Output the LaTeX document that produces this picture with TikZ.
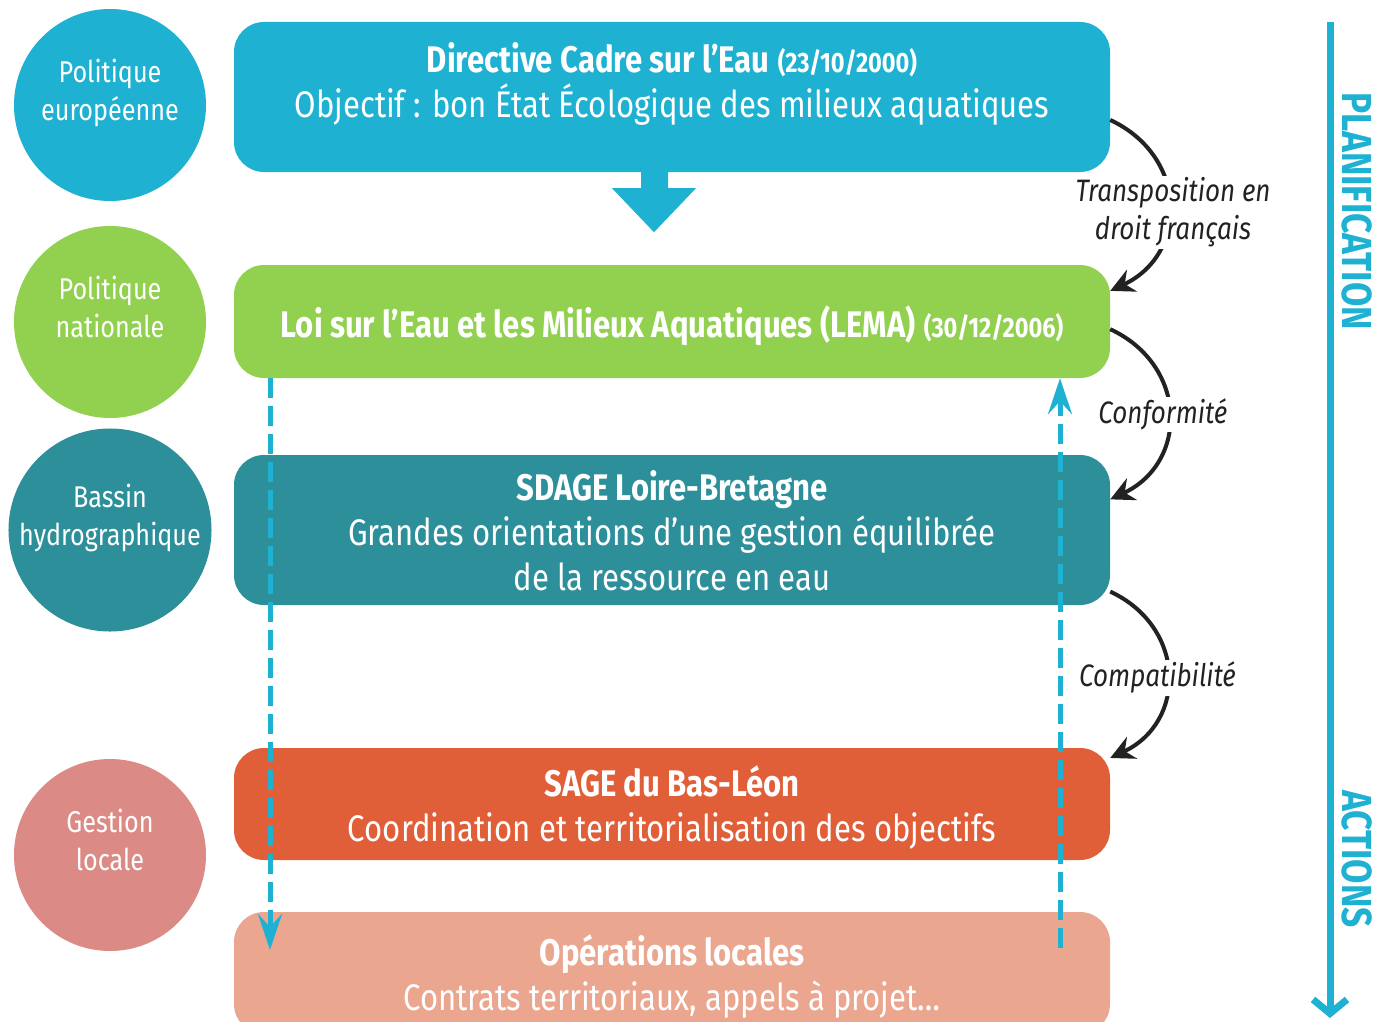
\documentclass[tikz,border=0pt]{standalone}
\usepackage{fontspec}
\setmainfont{Fira Sans}[FakeStretch=0.84]
\usetikzlibrary{arrows.meta}
\definecolor{ciel}{RGB}{31,177,210}
\definecolor{herbe}{RGB}{146,208,80}
\definecolor{canard}{RGB}{44,143,154}
\definecolor{brique}{RGB}{224,94,56}
\definecolor{saumon}{RGB}{235,166,144}
\definecolor{rose}{RGB}{220,138,133}
\definecolor{encre}{RGB}{34,34,34}
\tikzset{
  echelle/.style={circle,minimum size=192pt,inner sep=0pt,text=white,align=center,
    font=\fontsize{30}{38}\selectfont,text depth=30pt},
  niveau/.style={rectangle,rounded corners=30pt,minimum width=876pt,text=white,align=center,
    font=\fontsize{37}{45}\selectfont,text depth=0pt},
  lien/.style={line width=4pt,draw=encre,-{Stealth[length=24pt,width=24pt,inset=8pt]}},
  lbl/.style={fill=white,inner sep=2pt,align=center,text=encre,font=\fontsize{31}{38}\selectfont\itshape},
  retour/.style={line width=5pt,draw=ciel,dash pattern=on 20pt off 8pt,-{Stealth[length=36pt,width=24pt,inset=13pt]}},
  axe/.style={line width=7pt,draw=ciel,-{Straight Barb[length=14pt,width=34pt]}},
  sens/.style={rotate=-90,text=ciel,font=\fontsize{42}{46}\selectfont\bfseries}
}
\newcommand{\datesm}[1]{{\fontsize{28}{30}\selectfont #1}}
\begin{document}
\begin{tikzpicture}[x=1pt,y=1pt]
  \useasboundingbox (0,0) rectangle (1373,-1022);
  \clip (0,0) rectangle (1373,-1022);
  \node[echelle,fill=ciel] (polue) at (110,-105) {Politique\\européenne};
  \node[echelle,fill=herbe] (polnat) at (110,-322) {Politique\\nationale};
  \node[echelle,fill=canard] (polbas) at (110,-530) {Bassin\\hydrographique};
  \node[echelle,fill=rose] (polloc) at (110,-855) {Gestion\\locale};
  \node[niveau,fill=ciel,minimum height=150pt,text depth=34pt] (dce) at (672,-97)
    {\textbf{Directive Cadre sur l’Eau} \textbf{\datesm{(23/10/2000)}}\\Objectif : bon État Écologique des milieux aquatiques};
  \node[niveau,fill=herbe,minimum height=113pt] (lema) at (672,-321.5)
    {\textbf{Loi sur l’Eau et les Milieux Aquatiques (LEMA)} \textbf{\datesm{(30/12/2006)}}};
  \node[niveau,fill=canard,minimum height=150pt] (sdage) at (672,-530)
    {\textbf{SDAGE Loire-Bretagne}\\Grandes orientations d’une gestion équilibrée\\de la ressource en eau};
  \node[niveau,fill=brique,minimum height=112pt] (sage) at (672,-804)
    {\textbf{SAGE du Bas-Léon}\\Coordination et territorialisation des objectifs};
  \node[niveau,fill=saumon,minimum height=122pt] (ops) at (672,-973)
    {\textbf{Opérations locales}\\Contrats territoriaux, appels à projet…};
  \fill[ciel,shift={(dce.south)}] (-31,0) -- (-4,0) -- (-4,-16) -- (24,-16) -- (-18,-60) -- (-60,-16) -- (-31,-16) -- cycle;
  \draw[lien] (dce.-3) to[out=-25,in=25,looseness=1.3] node[lbl,xshift=4pt,yshift=-7pt] (transpo) {Transposition en\\droit français} (lema.4);
  \draw[lien] (lema.-1) to[out=-25,in=25,looseness=1.3] node[lbl,xshift=-6pt] (conform) {Conformité} (sdage.4);
  \draw[lien] (sdage.-8) to[out=-25,in=25,looseness=1.3] node[lbl,xshift=-10pt,yshift=-3pt] (compat) {Compatibilité} (sage.6);
  \coordinate (bas) at (270,-950);
  \coordinate (haut) at (1060,-948);
  \draw[retour] (lema.south -| bas) -- (bas);
  \draw[retour] (haut) -- (lema.south -| haut);
  \coordinate (debut) at (1330,-22);
  \coordinate (fin) at (1330,-1018);
  \draw[axe] (debut) -- (fin);
  \node[sens] (planif) at (1357,-211) {PLANIFICATION};
  \node[sens] (actions) at (1357,-859) {ACTIONS};
\end{tikzpicture}
\end{document}
